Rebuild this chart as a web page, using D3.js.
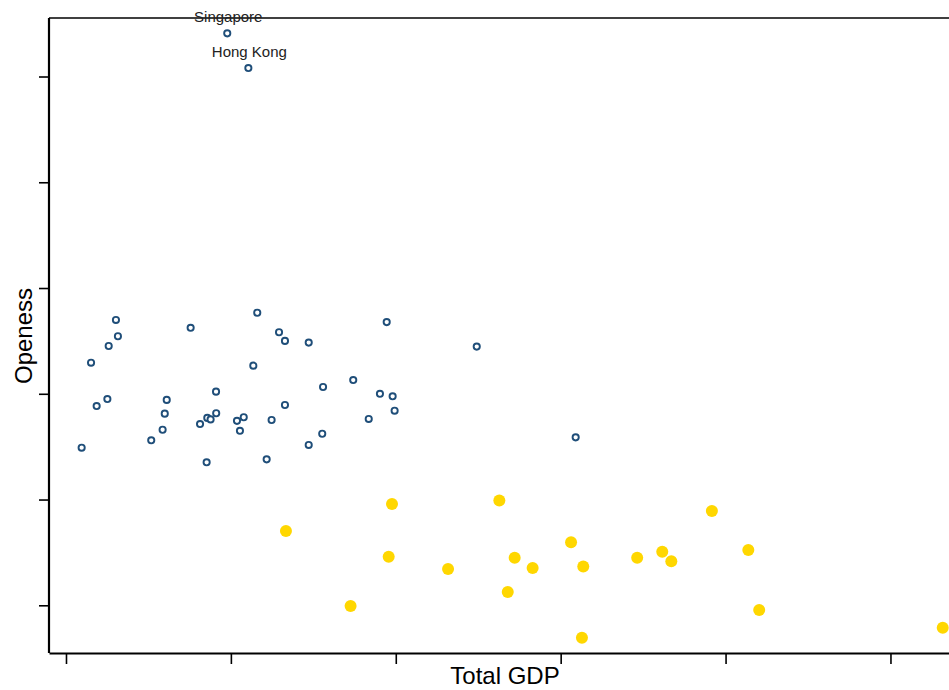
<!DOCTYPE html>
<html>
<head>
<meta charset="utf-8">
<script src="https://cdn.jsdelivr.net/npm/d3@7"></script>
<style>
  body { margin: 0; background: #fff; }
  svg { display: block; font-family: "Liberation Sans", Arial, sans-serif; }
</style>
</head>
<body>
<div id="chart"></div>
<script>
let width = 949;
let height = 690;

// 蓝色空心点 (GDP, openness)
let blue_gdp = [0.303, 0.315, 0.259, 0.152, 0.756, 0.251, 0.186, 0.095, 0.611, 0.599,
                0.586, 0.517, 0.813, 0.853, 1.160, 1.292, 1.328, 1.472, 1.136, 1.559,
                0.910, 1.328, 0.911, 0.857, 0.877, 1.078, 1.037, 1.055, 1.247, 1.554,
                1.472, 1.217, 1.945, 1.742, 1.904, 1.981, 1.993, 1.836, 2.491, 3.091,
                0.978, 1.106];
let blue_open = [184.9, 177.2, 172.6, 164.7, 181.2, 147.5, 144.2, 124.5, 147.1, 140.6,
                 133.0, 128.0, 135.7, 117.6, 188.3, 179.1, 175.0, 174.2, 163.3, 153.2,
                 151.0, 144.7, 140.8, 138.6, 137.9, 138.9, 137.2, 132.5, 137.6, 131.1,
                 125.8, 119.0, 183.9, 156.5, 150.0, 148.8, 142.0, 138.1, 172.3, 129.4,
                 320.4, 304.0];
let blue_name = [];
blue_name[40] = "Singapore";
blue_name[41] = "Hong Kong";

// 黄色实心点
let gold_gdp = [1.334, 1.726, 1.977, 1.957, 2.317, 2.628, 2.721, 2.679, 2.830, 3.063,
                3.137, 3.129, 3.464, 3.616, 3.671, 3.917, 4.138, 4.204, 5.317];
let gold_open = [85.1, 49.7, 97.9, 73.0, 67.2, 99.6, 72.5, 56.3, 67.6, 79.8,
                 68.4, 34.7, 72.5, 75.3, 70.8, 94.6, 76.1, 47.8, 39.4];

// 刻度（无标签）
let x_ticks = [0, 1, 2, 3, 4, 5];
let y_ticks = [50, 100, 150, 200, 250, 300];

let margin = {top: 18, right: 0, bottom: 37, left: 49};

let blue_color = "#1f4e79";
let gold_color = "#ffd700";

let svg = d3.select("#chart").append("svg")
    .attr("width", width)
    .attr("height", height);

let x = d3.scaleLinear()
    .domain([-0.103, 5.355])
    .range([margin.left, width - margin.right]);
let y = d3.scaleLinear()
    .domain([27.45, 327.66])
    .range([height - margin.bottom, margin.top]);

// 上边框
svg.append("line")
    .attr("x1", margin.left).attr("x2", width)
    .attr("y1", margin.top).attr("y2", margin.top)
    .style("stroke", "#000")
    .style("stroke-width", 1.5);

let xAxis = svg.append("g")
    .attr("transform", "translate(0," + (height - margin.bottom) + ")")
    .call(d3.axisBottom(x).tickValues(x_ticks).tickFormat("").tickSize(11).tickSizeOuter(0));
let yAxis = svg.append("g")
    .attr("transform", "translate(" + margin.left + ",0)")
    .call(d3.axisLeft(y).tickValues(y_ticks).tickFormat("").tickSize(10).tickSizeOuter(0));

[xAxis, yAxis].forEach(function(a) {
    a.select(".domain").style("stroke", "#000").style("stroke-width", 2.2);
    a.selectAll(".tick line").style("stroke", "#000").style("stroke-width", 1.6);
});
yAxis.select(".domain").attr("d", "M0," + margin.top + "V" + (height - margin.bottom));

// 黄点
let gold = gold_gdp.map((g, i) => ({gdp: g, open: gold_open[i]}));
svg.append("g").selectAll("circle")
    .data(gold)
    .enter().append("circle")
    .attr("cx", d => x(d.gdp))
    .attr("cy", d => y(d.open))
    .attr("r", 6)
    .style("fill", gold_color);

// 蓝点
let blue = blue_gdp.map((g, i) => ({gdp: g, open: blue_open[i], name: blue_name[i]}));
svg.append("g").selectAll("circle")
    .data(blue)
    .enter().append("circle")
    .attr("cx", d => x(d.gdp))
    .attr("cy", d => y(d.open))
    .attr("r", 3.1)
    .style("fill", "#fff")
    .style("stroke", blue_color)
    .style("stroke-width", 1.9);

svg.append("g").selectAll("text")
    .data(blue.filter(d => d.name))
    .enter().append("text")
    .attr("x", d => x(d.gdp) + 1)
    .attr("y", d => y(d.open) - 11)
    .attr("text-anchor", "middle")
    .style("font-size", "15px")
    .style("fill", "#222")
    .text(d => d.name);

// 轴标题
svg.append("text")
    .attr("x", 505)
    .attr("y", 684)
    .attr("text-anchor", "middle")
    .style("font-size", "24px")
    .style("fill", "#000")
    .text("Total GDP");

svg.append("text")
    .attr("transform", "translate(32,336) rotate(-90)")
    .attr("text-anchor", "middle")
    .style("font-size", "24px")
    .style("fill", "#000")
    .text("Openess");
</script>
</body>
</html>
